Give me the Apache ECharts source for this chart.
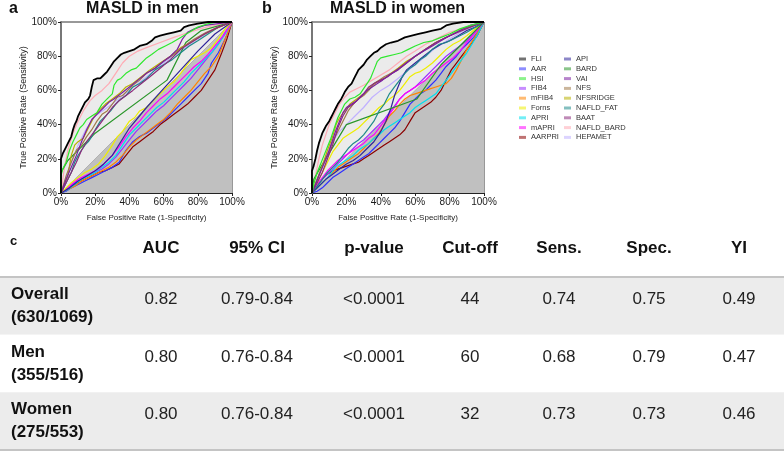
<!DOCTYPE html>
<html><head><meta charset="utf-8">
<script src="https://cdn.jsdelivr.net/npm/echarts@6/dist/echarts.min.js"></script>
<style>html,body{margin:0;padding:0;background:#fff}#c{width:784px;height:452px}</style>
</head><body><div id="c"></div>
<script>
// ---------- DATA ----------
const curveNames = ['FLI','AAR','HSI','FIB4','mFIB4','Forns','APRI','mAPRI','AARPRI','API','BARD','VAI','NFS','NFSRIDGE','NAFLD_FAT','BAAT','NAFLD_BARD','HEPAMET'];
const pctTicks = ['0%','20%','40%','60%','80%','100%'];
const diagonal = [[0,0],[100,100]];

// Men ROC curves [FPR %, TPR %]
const m_FLI = [[0,0],[0,20],[1,23],[2,23],[3,27],[4,29],[5,29],[6,33],[7,37],[8,40],[9,42],[10,45],[11,47],[12,48],[13,51],[14,53],[15,53],[16,55],[17,57],[18,62],[19,66],[21,67],[23,67],[25,69],[27,71],[29,74],[31,77],[33,79],[35,81],[37,82],[40,83],[43,84],[46,86],[50,87],[53,89],[55,91],[58,92],[62,93],[66,94],[70,95],[72,97],[75,98],[80,99],[86,100],[100,100]];
const m_HSI = [[0,0],[0,10],[1,14],[3,18],[5,25],[7,30],[9,34],[11,38],[13,40],[15,43],[18,45],[21,47],[24,52],[27,55],[30,58],[31,63],[33,66],[35,67],[38,70],[41,72],[44,73],[47,76],[50,79],[53,81],[57,84],[61,86],[65,88],[70,91],[75,94],[80,97],[86,99],[92,100],[100,100]];
const m_NAFLD_BARD = [[0,0],[2,15],[4,25],[7,35],[10,42],[13,48],[17,54],[20,57],[24,60],[28,64],[32,70],[36,76],[40,80],[45,83],[50,85],[58,88],[66,91],[75,94],[85,97],[100,100]];
const m_VAI = [[0,0],[3,8],[6,15],[9,22],[12,30],[15,37],[18,43],[21,46],[25,50],[28,53],[31,55],[35,58],[40,62],[45,66],[50,70],[55,73],[60,77],[64,80],[68,84],[71,90],[74,94],[78,96],[84,98],[92,99],[100,100]];
const m_HEPAMET = [[0,0],[5,15],[10,28],[15,38],[20,45],[30,52],[40,60],[50,68],[60,76],[70,83],[80,90],[90,96],[100,100]];
const m_NFS = [[0,0],[3,10],[6,18],[9,25],[12,28],[15,33],[18,37],[21,42],[24,46],[27,48],[30,52],[33,56],[36,57],[39,60],[42,63],[46,66],[50,70],[55,73],[60,77],[66,81],[72,86],[78,90],[85,94],[92,97],[100,100]];
const m_NFSRIDGE = [[0,0],[2,5],[4,10],[6,22],[8,28],[10,30],[13,32],[16,38],[19,44],[22,48],[26,52],[30,55],[34,58],[38,62],[42,64],[47,68],[52,72],[58,76],[64,80],[70,85],[76,88],[82,92],[90,96],[100,100]];
const m_BAAT = [[0,0],[3,6],[6,12],[9,18],[12,25],[15,30],[18,34],[21,38],[24,42],[27,46],[30,50],[34,54],[38,57],[42,60],[47,64],[52,68],[58,73],[64,78],[70,84],[76,88],[84,93],[92,97],[100,100]];
const m_NAFLD_FAT = [[0,0],[2,4],[4,8],[6,12],[8,18],[10,22],[12,25],[14,28],[16,30],[18,33],[20,37],[23,42],[26,45],[29,48],[32,52],[35,55],[38,57],[42,62],[46,64],[50,67],[55,72],[60,75],[65,78],[70,82],[75,86],[80,89],[86,93],[92,97],[100,100]];
const m_BARD = [[0,0],[0,12],[4,19],[20,35],[62,66],[73,88],[82,95],[100,100]];
const m_API = [[0,0],[5,3],[10,7],[15,10],[20,13],[25,17],[30,22],[40,38],[50,50],[60,61],[70,72],[80,83],[90,93],[100,100]];
const m_Forns = [[0,0],[3,3],[6,6],[10,9],[14,12],[18,14],[22,17],[26,22],[30,28],[33,33],[36,36],[40,42],[43,44],[46,48],[50,50],[54,54],[58,58],[62,62],[66,65],[70,70],[73,74],[76,78],[80,80],[84,82],[88,85],[92,90],[96,96],[100,100]];
const m_mAPRI = [[0,0],[3,2],[6,5],[10,8],[14,10],[18,12],[22,14],[26,18],[30,22],[34,27],[38,33],[42,38],[46,42],[50,47],[54,51],[58,55],[62,58],[66,62],[70,66],[74,70],[78,74],[82,77],[86,81],[90,86],[95,92],[100,100]];
const m_APRI = [[0,0],[4,2],[8,5],[12,8],[16,10],[20,12],[24,15],[28,18],[32,22],[36,28],[40,34],[44,38],[48,42],[52,46],[56,50],[60,53],[64,57],[68,61],[72,65],[76,70],[80,74],[84,78],[88,82],[92,87],[96,93],[100,100]];
const m_FIB4 = [[0,0],[4,3],[8,6],[12,8],[16,10],[20,12],[24,14],[28,17],[32,21],[36,26],[40,31],[44,36],[48,40],[52,44],[56,48],[60,51],[64,55],[68,59],[72,63],[76,67],[80,72],[84,77],[88,82],[92,87],[96,94],[100,100]];
const m_mFIB4 = [[0,0],[4,2],[8,4],[12,7],[16,9],[20,11],[24,13],[28,15],[32,18],[36,22],[40,27],[44,31],[48,34],[52,37],[56,40],[60,43],[64,47],[68,52],[72,56],[76,60],[80,65],[84,70],[88,74],[92,80],[96,90],[100,100]];
const m_AAR = [[0,0],[3,1],[6,3],[10,5],[14,7],[18,9],[22,11],[26,13],[30,15],[34,18],[38,25],[42,30],[46,33],[50,35],[54,38],[58,41],[62,44],[66,48],[70,52],[74,56],[78,60],[82,64],[86,70],[88,76],[92,82],[96,90],[100,100]];
const m_AARPRI = [[0,0],[3,2],[6,4],[10,6],[14,8],[18,10],[22,12],[26,13],[30,15],[34,17],[38,22],[42,27],[46,30],[50,33],[54,36],[58,40],[62,43],[66,46],[70,49],[74,52],[78,56],[82,60],[86,66],[90,72],[94,82],[97,90],[100,100]];

// Women ROC curves [FPR %, TPR %]
const w_FLI = [[0,0],[0,13],[1,16],[2,20],[3,25],[4,29],[5,32],[6,35],[7,37],[8,39],[9,40],[10,42],[11,44],[12,46],[13,48],[14,50],[15,52],[16,53],[17,55],[18,57],[19,59],[20,60],[21,62],[22,63],[23,64],[24,66],[25,68],[26,70],[27,72],[28,73],[30,75],[32,78],[34,80],[36,82],[38,83],[40,85],[43,87],[46,88],[50,89],[54,91],[58,92],[62,93],[66,94],[70,95],[75,96],[78,98],[82,99],[88,100],[100,100]];
const w_HSI = [[0,0],[1,5],[3,12],[5,17],[7,22],[9,27],[11,32],[13,38],[15,44],[17,48],[19,52],[22,55],[25,56],[28,58],[30,61],[32,64],[34,67],[36,72],[38,77],[40,79],[44,80],[48,81],[52,82],[56,84],[60,86],[65,88],[70,89],[75,91],[80,93],[86,96],[92,98],[100,100]];
const w_NAFLD_BARD = [[0,0],[2,10],[4,20],[6,28],[8,34],[10,40],[13,46],[16,52],[19,56],[22,59],[26,61],[30,63],[35,66],[40,69],[45,72],[50,76],[55,80],[60,83],[66,87],[72,90],[80,94],[90,97],[100,100]];
const w_VAI = [[0,0],[2,5],[4,10],[6,15],[8,20],[10,25],[12,31],[14,37],[16,42],[18,47],[20,50],[23,52],[26,54],[29,57],[32,60],[35,62],[38,64],[41,66],[45,69],[50,72],[55,76],[60,80],[65,83],[70,86],[75,89],[80,92],[86,95],[92,98],[100,100]];
const w_BAAT = [[0,0],[3,6],[6,12],[9,20],[12,28],[15,38],[18,45],[21,50],[24,52],[27,55],[30,58],[33,62],[36,64],[40,66],[44,68],[48,71],[52,74],[56,77],[60,80],[66,84],[72,88],[78,91],[85,94],[92,97],[100,100]];
const w_NFS = [[0,0],[3,8],[6,15],[9,22],[12,30],[15,36],[18,42],[21,48],[24,52],[27,55],[30,57],[33,60],[36,64],[39,66],[42,68],[46,70],[50,72],[55,76],[60,80],[66,84],[72,88],[80,92],[88,96],[100,100]];
const w_NFSRIDGE = [[0,0],[3,8],[6,16],[9,25],[12,33],[14,40],[16,44],[19,48],[22,52],[26,55],[30,58],[34,62],[38,65],[42,67],[46,70],[50,73],[55,77],[60,80],[66,84],[72,88],[80,92],[88,96],[100,100]];
const w_HEPAMET = [[0,0],[3,8],[6,16],[9,24],[12,30],[16,36],[20,40],[25,45],[30,50],[35,56],[40,60],[45,63],[50,67],[55,71],[60,75],[66,80],[72,85],[80,90],[88,95],[100,100]];
const w_NAFLD_FAT = [[0,0],[3,4],[6,8],[9,12],[12,15],[15,18],[18,22],[21,26],[24,29],[27,31],[30,34],[33,38],[36,42],[39,48],[42,52],[45,58],[48,62],[51,66],[54,70],[57,73],[60,75],[63,78],[66,80],[70,84],[74,87],[78,88],[82,90],[86,92],[90,94],[95,97],[100,100]];
const w_BARD = [[0,0],[1,8],[5,15],[20,40],[61,55],[75,75],[100,100]];
const w_API = [[0,0],[4,4],[8,8],[12,11],[16,14],[20,17],[24,19],[28,22],[32,26],[36,30],[40,36],[43,42],[46,50],[48,57],[50,62],[52,67],[55,72],[60,76],[65,80],[70,84],[75,87],[80,89],[85,92],[90,95],[95,97],[100,100]];
const w_Forns = [[0,0],[3,6],[6,12],[9,18],[12,24],[15,28],[18,32],[21,34],[24,36],[27,38],[30,41],[33,44],[36,47],[39,50],[42,52],[45,55],[48,57],[51,60],[54,64],[57,68],[60,70],[63,71],[66,73],[70,76],[74,80],[78,84],[82,87],[86,89],[90,92],[95,96],[100,100]];
const w_mAPRI = [[0,0],[3,5],[6,9],[9,13],[12,16],[15,19],[18,21],[21,23],[24,25],[27,27],[30,29],[33,32],[36,34],[39,38],[42,42],[45,46],[48,50],[51,55],[54,58],[57,60],[60,62],[63,64],[66,66],[70,70],[74,73],[78,76],[82,79],[86,83],[90,88],[95,94],[100,100]];
const w_APRI = [[0,0],[3,3],[6,6],[9,9],[12,13],[15,16],[18,18],[21,20],[24,22],[27,25],[30,27],[33,29],[36,32],[39,34],[42,37],[45,39],[48,41],[51,43],[54,45],[57,47],[60,50],[63,52],[66,54],[69,56],[72,58],[75,62],[78,66],[81,70],[84,74],[87,78],[90,82],[93,87],[96,92],[100,100]];
const w_AAR = [[0,0],[3,1],[6,3],[9,6],[12,9],[15,11],[18,13],[21,15],[24,17],[27,19],[30,21],[33,23],[36,26],[39,29],[42,32],[45,35],[48,38],[51,42],[54,47],[57,52],[60,55],[63,58],[66,60],[69,63],[72,66],[75,70],[78,74],[81,77],[84,80],[87,84],[90,87],[94,91],[97,95],[100,100]];
const w_AARPRI = [[0,0],[3,4],[6,8],[9,11],[12,13],[15,14],[18,15],[21,16],[24,17],[27,18],[30,20],[33,22],[36,24],[39,26],[42,28],[45,30],[48,32],[51,34],[54,37],[57,42],[60,47],[63,49],[66,51],[69,53],[72,56],[75,60],[78,66],[81,72],[84,76],[87,80],[90,84],[93,88],[96,92],[100,100]];
const w_mFIB4 = [[0,0],[3,3],[6,6],[9,9],[12,12],[15,15],[18,17],[21,19],[24,21],[27,23],[30,26],[33,29],[36,32],[39,35],[42,40],[45,45],[48,48],[51,52],[54,55],[57,57],[60,58],[63,59],[66,60],[69,61],[72,62],[75,63],[78,64],[81,67],[84,72],[87,78],[90,84],[94,90],[97,95],[100,100]];
const w_FIB4 = [[0,0],[3,4],[6,8],[9,11],[12,14],[15,17],[18,20],[21,23],[24,26],[27,29],[30,31],[33,34],[36,37],[39,40],[42,43],[45,47],[48,51],[51,55],[54,58],[57,60],[60,62],[63,65],[66,68],[70,72],[74,76],[78,80],[82,83],[86,86],[90,89],[95,94],[100,100]];

// Table
const tableHeaders = ['AUC','95% CI','p-value','Cut-off','Sens.','Spec.','YI'];
const rowNames = ['Overall','Men','Women'];
const rowCounts = ['(630/1069)','(355/516)','(275/553)'];
const aucVals = ['0.82','0.80','0.80'];
const ciVals = ['0.79-0.84','0.76-0.84','0.76-0.84'];
const pVals = ['<0.0001','<0.0001','<0.0001'];
const cutoffVals = ['44','60','32'];
const sensVals = ['0.74','0.68','0.73'];
const specVals = ['0.75','0.79','0.73'];
const yiVals = ['0.49','0.47','0.46'];

// ---------- LAYOUT / STYLE ----------
const colCenters = [161, 257, 374, 470, 559, 649, 739];
const FONT = "'Liberation Sans', Arial, Helvetica, sans-serif";
const lineColors = {FLI:'#000000',AAR:'#2f2fff',HSI:'#2ee82e',FIB4:'#9b30ff',mFIB4:'#ff8400',Forns:'#eeee00',APRI:'#00e0ee',mAPRI:'#ff00ff',AARPRI:'#8b0000',API:'#30259a',BARD:'#2a962a',VAI:'#7b1fa2',NFS:'#a07a4a',NFSRIDGE:'#b8b000',NAFLD_FAT:'#1f8a8a',BAAT:'#8b2a7b',NAFLD_BARD:'#ffaab4',HEPAMET:'#c0b0ff'};

const menCurves = {FLI:m_FLI,AAR:m_AAR,HSI:m_HSI,FIB4:m_FIB4,mFIB4:m_mFIB4,Forns:m_Forns,APRI:m_APRI,mAPRI:m_mAPRI,AARPRI:m_AARPRI,API:m_API,BARD:m_BARD,VAI:m_VAI,NFS:m_NFS,NFSRIDGE:m_NFSRIDGE,NAFLD_FAT:m_NAFLD_FAT,BAAT:m_BAAT,NAFLD_BARD:m_NAFLD_BARD,HEPAMET:m_HEPAMET};
const womenCurves = {FLI:w_FLI,AAR:w_AAR,HSI:w_HSI,FIB4:w_FIB4,mFIB4:w_mFIB4,Forns:w_Forns,APRI:w_APRI,mAPRI:w_mAPRI,AARPRI:w_AARPRI,API:w_API,BARD:w_BARD,VAI:w_VAI,NFS:w_NFS,NFSRIDGE:w_NFSRIDGE,NAFLD_FAT:w_NAFLD_FAT,BAAT:w_BAAT,NAFLD_BARD:w_NAFLD_BARD,HEPAMET:w_HEPAMET};

const drawOrder = ['NAFLD_BARD','HEPAMET','AARPRI','AAR','mFIB4','FIB4','APRI','mAPRI','Forns','API','BARD','NAFLD_FAT','NFSRIDGE','NFS','BAAT','VAI','HSI','FLI'];

function rocAxes(gi) {
  return {
    x: {type:'value', gridIndex:gi, min:0, max:100, interval:20,
        axisLine:{show:true, lineStyle:{color:'#222', width:1}},
        axisTick:{show:true, length:3, lineStyle:{color:'#222'}},
        axisLabel:{fontSize:10, color:'#1a1a1a', margin:4, fontFamily:FONT, formatter:(v)=>pctTicks[v/20]},
        splitLine:{show:false},
        name:'False Positive Rate (1-Specificity)', nameLocation:'middle', nameGap:21,
        nameTextStyle:{fontSize:8, color:'#222', fontFamily:FONT}},
    y: {type:'value', gridIndex:gi, min:0, max:100, interval:20,
        axisLine:{show:true, lineStyle:{color:'#777', width:2}},
        axisTick:{show:true, length:3, lineStyle:{color:'#222'}},
        axisLabel:{fontSize:10, color:'#1a1a1a', margin:4, fontFamily:FONT, formatter:(v)=>pctTicks[v/20]},
        splitLine:{show:false},
        name:'True Positive Rate (Sensitivity)', nameLocation:'middle', nameGap:31,
        nameTextStyle:{fontSize:9, color:'#222', fontFamily:FONT}}
  };
}
const axA = rocAxes(0), axB = rocAxes(1);

const series = [];
[[menCurves,0],[womenCurves,1]].forEach(([curves, gi]) => {
  series.push({type:'line', name:'FLI area', xAxisIndex:gi, yAxisIndex:gi, data:curves.FLI, showSymbol:false,
    lineStyle:{width:0, opacity:0}, areaStyle:{color:'#ebebeb', opacity:1}, z:1, silent:true, animation:false});
  series.push({type:'line', name:'chance', xAxisIndex:gi, yAxisIndex:gi, data:diagonal, showSymbol:false,
    lineStyle:{width:0.6, color:'#999'}, areaStyle:{color:'#c0c0c0', opacity:1}, z:2, silent:true, animation:false});
  drawOrder.forEach((n, k) => {
    series.push({type:'line', name:n, xAxisIndex:gi, yAxisIndex:gi, data:curves[n], showSymbol:false,
      color:lineColors[n], lineStyle:{width: n==='FLI'?1.8:1.2, color:lineColors[n]}, z:3+k, silent:true, animation:false});
  });
});

const colArrays = [aucVals, ciVals, pVals, cutoffVals, sensVals, specVals, yiVals];
const tableData = [];
colArrays.forEach((arr, c) => arr.forEach((v, r) => tableData.push({value:[colCenters[c], r], txt:v})));
series.push({type:'scatter', xAxisIndex:2, yAxisIndex:2, data:tableData, symbolSize:0, silent:true, animation:false,
  itemStyle:{color:'#222', opacity:1},
  label:{show:true, position:'inside', offset:[0,-6.5], formatter:(p)=>p.data.txt, fontSize:17, color:'#222', opacity:1, textBorderWidth:0, fontFamily:FONT}});

const legendCommon = {orient:'vertical', top:55, itemWidth:7, itemHeight:3, itemGap:1.8, icon:'rect',
  textStyle:{fontSize:7.5, color:'#333', fontFamily:FONT}, itemStyle:{opacity:0.55}, selectedMode:false, padding:0};

const option = {
  backgroundColor:'#fff',
  animation:false,
  title:[
    {text:'a', left:9, top:1, padding:0, textStyle:{fontSize:16, fontWeight:'bold', color:'#111', fontFamily:FONT}},
    {text:'MASLD in men', left:86, top:1, padding:0, textStyle:{fontSize:16, fontWeight:'bold', color:'#111', fontFamily:FONT}},
    {text:'b', left:262, top:1, padding:0, textStyle:{fontSize:16, fontWeight:'bold', color:'#111', fontFamily:FONT}},
    {text:'MASLD in women', left:330, top:1, padding:0, textStyle:{fontSize:16, fontWeight:'bold', color:'#111', fontFamily:FONT}},
    {text:'c', left:10, top:235, padding:0, textStyle:{fontSize:13, fontWeight:'bold', color:'#111', fontFamily:FONT}}
  ],
  legend:[
    Object.assign({left:519, data:curveNames.slice(0,9)}, legendCommon),
    Object.assign({left:564, data:curveNames.slice(9)}, legendCommon)
  ],
  grid:[
    {left:61, top:22, width:171, height:171, show:true, borderColor:'#333', borderWidth:1, backgroundColor:'#fff'},
    {left:312, top:22, width:172, height:171, show:true, borderColor:'#333', borderWidth:1, backgroundColor:'#fff'},
    {left:0, top:277, width:784, bottom:2}
  ],
  xAxis:[axA.x, axB.x,
    {type:'value', gridIndex:2, position:'top', min:0, max:784,
      axisLine:{show:true, lineStyle:{color:'#c4c4c4', width:2}}, axisTick:{show:false}, splitLine:{show:false},
      axisLabel:{show:true, customValues:colCenters, margin:20, fontSize:17, fontWeight:'bold', color:'#111', fontFamily:FONT,
        formatter:(v)=>tableHeaders[colCenters.indexOf(v)]}},
    {type:'value', gridIndex:2, position:'bottom', min:0, max:784,
      axisLine:{show:true, lineStyle:{color:'#c4c4c4', width:2}}, axisTick:{show:false}, splitLine:{show:false}, axisLabel:{show:false}}
  ],
  yAxis:[axA.y, axB.y,
    {type:'category', gridIndex:2, inverse:true, data:rowNames,
      axisLine:{show:false}, axisTick:{show:false}, splitLine:{show:false},
      splitArea:{show:true, areaStyle:{color:['#ececec','#ffffff']}},
      axisLabel:{inside:true, margin:11, fontSize:17, fontWeight:'bold', color:'#111', lineHeight:23, fontFamily:FONT,
        padding:[0,0,11,0], formatter:(v)=>v + '\n' + rowCounts[rowNames.indexOf(v)]}}
  ],
  series:series
};

const chart = echarts.init(document.getElementById('c'), null, {renderer:'canvas'});
chart.setOption(option);
</script></body></html>
